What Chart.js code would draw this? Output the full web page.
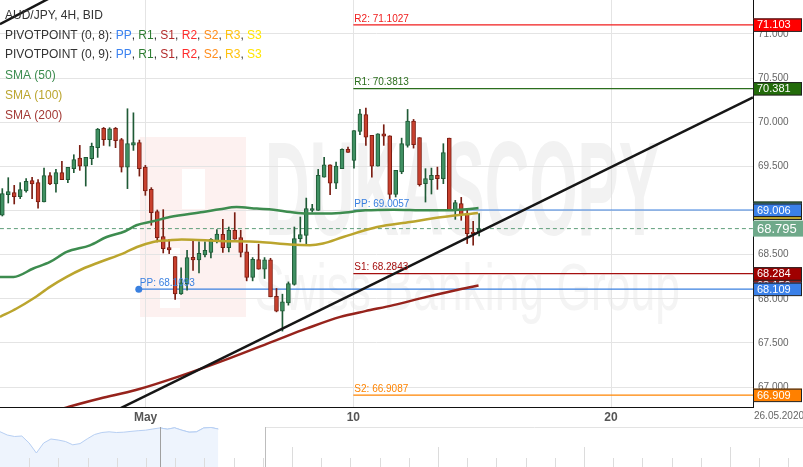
<!DOCTYPE html>
<html lang="en">
<head>
<meta charset="UTF-8">
<title>AUD/JPY, 4H</title>
<script src="https://cdn.jsdelivr.net/npm/chart.js"></script>
<style>
  body { margin: 0; background: #fff; }
  #wrap { position: relative; width: 803px; height: 467px; overflow: hidden; background: #fff; }
  #mainChart { position: absolute; left: 0; top: 0; }
  #navChart { position: absolute; left: 0; top: 427px; }
</style>
</head>
<body>
<div id="wrap">
  <canvas id="mainChart" width="803" height="427"></canvas>
  <canvas id="navChart" width="803" height="40"></canvas>
</div>

<script>
// 4H candles (index 0 = first visible candle)
const openP = [68.946, 69.180, 69.203, 69.157, 69.221, 69.338, 69.316, 69.096, 69.395, 69.300,
  69.429, 69.350, 69.474, 69.594, 69.503, 69.587, 69.712, 69.930, 69.802, 69.930,
  69.805, 69.492, 69.741, 69.771, 69.492, 69.240, 68.988, 68.705, 68.580, 68.479,
  68.055, 68.169, 68.471, 68.440, 68.497, 68.524, 68.652, 68.731, 68.580, 68.776,
  68.693, 68.531, 68.241, 68.445, 68.335, 68.440, 68.029, 67.860, 67.954, 68.162,
  68.682, 68.719, 69.002, 69.002, 69.379, 69.519, 69.311, 69.474, 69.692, 69.568,
  69.896, 70.088, 69.851, 69.503, 69.870, 69.847, 69.183, 69.436, 69.738, 70.012,
  69.825, 69.304, 69.350, 69.398, 69.361, 69.820, 69.010, 69.078, 68.965, 68.757,
  68.757];
const highP = [69.248, 69.372, 69.285, 69.316, 69.361, 69.376, 69.350, 69.481, 69.429, 69.466,
  69.557, 69.489, 69.632, 69.738, 69.602, 69.764, 69.930, 69.941, 69.938, 69.941,
  69.817, 70.153, 70.107, 69.798, 69.511, 69.259, 69.006, 69.010, 68.674, 68.479,
  68.350, 68.550, 68.652, 68.644, 68.644, 68.682, 68.784, 68.900, 68.813, 68.976,
  68.776, 68.618, 68.467, 68.618, 68.467, 68.459, 68.117, 68.052, 68.191, 68.813,
  68.926, 69.141, 69.070, 69.466, 69.602, 69.519, 69.549, 69.700, 69.718, 69.907,
  70.145, 70.160, 69.851, 69.870, 69.972, 69.847, 69.455, 69.820, 70.145, 70.032,
  69.825, 69.474, 69.481, 69.492, 69.757, 69.820, 69.115, 69.149, 69.022, 68.878,
  68.965];
const lowP = [68.938, 69.085, 69.074, 69.135, 69.209, 69.135, 69.028, 69.096, 69.293, 69.209,
  69.350, 69.316, 69.429, 69.455, 69.277, 69.519, 69.602, 69.738, 69.730, 69.712,
  69.436, 69.248, 69.681, 69.390, 69.172, 68.833, 68.644, 68.519, 68.512, 67.992,
  68.049, 68.097, 68.320, 68.293, 68.474, 68.463, 68.632, 68.524, 68.531, 68.674,
  68.474, 68.203, 68.203, 68.335, 68.230, 68.022, 67.852, 67.634, 67.928, 68.154,
  68.644, 68.618, 68.983, 69.002, 69.379, 69.180, 69.248, 69.474, 69.658, 69.481,
  69.859, 69.738, 69.379, 69.503, 69.738, 69.135, 69.153, 69.417, 69.718, 69.707,
  69.277, 69.096, 69.187, 69.240, 69.304, 69.010, 68.900, 68.889, 68.626, 68.606,
  68.712];
const closeP = [69.191, 69.214, 69.157, 69.236, 69.330, 69.300, 69.096, 69.395, 69.300, 69.429,
  69.350, 69.489, 69.576, 69.503, 69.602, 69.726, 69.922, 69.802, 69.926, 69.791,
  69.492, 69.757, 69.771, 69.474, 69.221, 68.976, 68.693, 68.569, 68.553, 68.055,
  68.180, 68.467, 68.440, 68.516, 68.550, 68.674, 68.734, 68.580, 68.776, 68.674,
  68.524, 68.241, 68.448, 68.335, 68.440, 68.022, 67.860, 67.965, 68.173, 68.682,
  68.727, 69.022, 69.022, 69.398, 69.519, 69.311, 69.503, 69.692, 69.658, 69.907,
  70.096, 69.831, 69.503, 69.870, 69.843, 69.183, 69.455, 69.757, 70.012, 69.745,
  69.293, 69.361, 69.398, 69.361, 69.655, 69.010, 69.089, 68.954, 68.739, 68.739,
  68.795];

// moving averages as [candle index, value]
const sma50 = [[-0.4, 68.248], [1.9, 68.248], [5.2, 68.343], [8, 68.417], [10.8, 68.531],
  [14.7, 68.606], [17.5, 68.700], [20.6, 68.765], [22.5, 68.833], [25.3, 68.878],
  [28.1, 68.926], [33.7, 68.983], [36.5, 69.014], [39.3, 69.040], [42.7, 69.022],
  [45.5, 69.010], [48.3, 68.983], [51.1, 68.965], [53.9, 68.965], [56.7, 68.972],
  [60.9, 69.002], [65.6, 69.010], [71.2, 69.002], [75.1, 69.002], [77.9, 69.014], [79.9, 69.028]];
const sma100 = [[-0.4, 67.795], [2.4, 67.890], [5.2, 68.003], [8, 68.135], [10.8, 68.248],
  [13.6, 68.343], [16.4, 68.417], [20.6, 68.524], [22.6, 68.587], [25.3, 68.644],
  [28.1, 68.663], [30.1, 68.671], [36.5, 68.655], [43.2, 68.644], [48.3, 68.614],
  [51.6, 68.606], [53.8, 68.626], [57.2, 68.700], [62.9, 68.813], [68.4, 68.870],
  [73.9, 68.926], [79.8, 68.972]];
const sma200 = [[8.5, 66.720], [11.2, 66.777], [16.4, 66.870], [22.4, 66.966], [29.8, 67.124],
  [38.2, 67.328], [46, 67.532], [51.1, 67.664], [56.7, 67.795], [60.9, 67.860],
  [65.6, 67.928], [71.2, 68.022], [76.8, 68.109], [79.9, 68.150]];

// trend lines
const trendMain = [[15, 66.600], [125.95, 70.281]];
const trendTop = [[-0.4, 71.112], [8, 71.408]];

// weekly pivot points
const pivotNames = ['R2', 'R1', 'PP', 'S1', 'S2'];
const pivotValues = [71.1027, 70.3813, 69.0057, 68.2843, 66.9087];
const pivotStart = 58.9;
const prevPP = 68.1093;
const prevPPStart = 22.9;
const lastPrice = 68.795;

const priceTicks = [67, 67.5, 68, 68.5, 69, 69.5, 70, 70.5, 71];
const dateTickPos = [24.04, 58.89, 102.13];
const dateTickLabels = ['May', '10', '20'];

// navigator history (relative height)
const navValues = [35.3, 32, 30.5, 31, 24, 14, 24, 28, 27, 25.5, 22.2, 23.4, 28.2, 32.5, 34.5,
  35.2, 34.5, 34.8, 35.6, 36.3, 36.8, 38, 39.1, 37.8, 39.2, 36.8, 34.8, 35.1, 39, 39.5, 38];
const navSelStart = 22;

// colours
const upFill = '#3f9062', upEdge = '#1f5a36';
const downFill = '#c8402e', downEdge = '#7a1d12';
const pivotColors = ['#f01c1c', '#2b6e1c', '#3a80e0', '#a50f0f', '#ff8400'];
const sma50Color = '#3d8c4f', sma100Color = '#bba52e', sma200Color = '#96231c';

const up = closeP.map((c, i) => c >= openP[i]);

const datasets = [
  {
    type: 'bar', label: 'wick',
    data: highP.map((h, i) => ({ x: i, y: [lowP[i], h] })),
    backgroundColor: up.map(u => u ? upEdge : downEdge),
    barThickness: 1, grouped: false, order: 3
  },
  {
    type: 'bar', label: 'body',
    data: openP.map((o, i) => ({ x: i, y: [o, closeP[i]] })),
    backgroundColor: up.map(u => u ? upFill : downFill),
    borderColor: up.map(u => u ? upEdge : downEdge),
    borderWidth: 1, borderSkipped: false,
    barThickness: 4, grouped: false, order: 2
  },
  {
    type: 'line', label: 'SMA (50)', data: sma50.map(p => ({ x: p[0], y: p[1] })),
    borderColor: sma50Color, borderWidth: 2.5, pointRadius: 0, cubicInterpolationMode: 'monotone', order: 1
  },
  {
    type: 'line', label: 'SMA (100)', data: sma100.map(p => ({ x: p[0], y: p[1] })),
    borderColor: sma100Color, borderWidth: 2.5, pointRadius: 0, cubicInterpolationMode: 'monotone', order: 1
  },
  {
    type: 'line', label: 'SMA (200)', data: sma200.map(p => ({ x: p[0], y: p[1] })),
    borderColor: sma200Color, borderWidth: 2.5, pointRadius: 0, cubicInterpolationMode: 'monotone', order: 1
  },
  {
    type: 'line', label: 'trend', data: trendMain.map(p => ({ x: p[0], y: p[1] })),
    borderColor: '#161616', borderWidth: 2.5, pointRadius: 0, order: 0
  },
  {
    type: 'line', label: 'trend2', data: trendTop.map(p => ({ x: p[0], y: p[1] })),
    borderColor: '#161616', borderWidth: 2.5, pointRadius: 0, order: 0
  },
  {
    type: 'line', label: 'last', data: [{ x: -0.4, y: lastPrice }, { x: 126, y: lastPrice }],
    borderColor: '#5f9e7a', borderWidth: 1, borderDash: [4, 3], pointRadius: 0, order: 4
  },
  {
    type: 'line', label: 'PP prev', data: [{ x: prevPPStart, y: prevPP }, { x: 126, y: prevPP }],
    borderColor: '#3a80e0', borderWidth: 1.2, pointRadius: [3.5, 0], pointBackgroundColor: '#3a80e0',
    pointBorderWidth: 0, order: 4
  }
];
pivotNames.forEach((n, k) => {
  datasets.push({
    type: 'line', label: n, data: [{ x: pivotStart, y: pivotValues[k] }, { x: 126, y: pivotValues[k] }],
    borderColor: pivotColors[k], borderWidth: 1.2, pointRadius: 0, order: 4
  });
});

function drawWatermark(ctx) {
  ctx.save();
  ctx.fillStyle = '#fdf1f0';
  ctx.fillRect(140, 137, 106, 180);
  ctx.fillStyle = '#ffffff';
  ctx.fillRect(182, 169, 23, 40);
  ctx.fillRect(160, 248, 20, 60);

  ctx.fillStyle = '#f2f2f2';
  ctx.font = 'bold 134px "Liberation Sans", Arial, sans-serif';
  ctx.textBaseline = 'alphabetic';
  let w = ctx.measureText('DUKASCOPY').width;
  ctx.save();
  ctx.translate(265, 235);
  ctx.scale(395 / w, 1);
  ctx.fillText('DUKASCOPY', 0, 0);
  ctx.restore();

  ctx.fillStyle = '#f4f4f4';
  ctx.font = '66px "Liberation Sans", Arial, sans-serif';
  w = ctx.measureText('Swiss Banking Group').width;
  ctx.translate(255, 310);
  ctx.scale(425 / w, 1);
  ctx.fillText('Swiss Banking Group', 0, 0);
  ctx.restore();
}

function drawLegend(ctx) {
  const sep = '#333';
  const pivotRow = label => {
    const names = ['PP', 'R1', 'S1', 'R2', 'S2', 'R3', 'S3'];
    const cols = ['#3b82f0', '#2e7d32', '#b22a2a', '#ff2b2b', '#ff8c1a', '#ffc20e', '#ffe600'];
    const row = [[label, sep]];
    names.forEach((n, i) => {
      row.push([n, cols[i]]);
      if (i < names.length - 1) row.push([', ', sep]);
    });
    return row;
  };
  const rows = [
    { y: 16, parts: [['AUD/JPY, 4H, BID', '#333']] },
    { y: 35.5, parts: pivotRow('PIVOTPOINT (0, 8): ') },
    { y: 55, parts: pivotRow('PIVOTPOINT (0, 9): ') },
    { y: 76, parts: [['SMA (50)', sma50Color]] },
    { y: 96, parts: [['SMA (100)', sma100Color]] },
    { y: 116, parts: [['SMA (200)', '#a33a35']] }
  ];
  ctx.save();
  ctx.font = '12px Arial, "Liberation Sans", sans-serif';
  ctx.textBaseline = 'middle';
  rows.forEach(r => {
    let x = 5;
    r.parts.forEach(([t, c]) => {
      ctx.fillStyle = c;
      ctx.fillText(t, x, r.y);
      x += ctx.measureText(t).width;
    });
  });
  ctx.restore();
}

function priceBox(ctx, yScale, value, fill, textColor) {
  const y = yScale.getPixelForValue(value);
  ctx.fillStyle = fill;
  ctx.fillRect(753, y - 6.5, 49, 13);
  ctx.strokeStyle = '#222';
  ctx.lineWidth = 1;
  ctx.strokeRect(753.5, y - 6, 48, 12.5);
  ctx.fillStyle = textColor;
  ctx.font = '11px Arial, "Liberation Sans", sans-serif';
  ctx.textBaseline = 'middle';
  ctx.textAlign = 'left';
  ctx.fillText(value.toFixed(3), 757, y + 0.5);
}

const decor = {
  id: 'decor',
  beforeDraw(chart) {
    const ctx = chart.ctx;
    ctx.save();
    ctx.fillStyle = '#fff';
    ctx.fillRect(0, 0, chart.width, chart.height);
    ctx.restore();
    drawWatermark(ctx);
  },
  afterDatasetsDraw(chart) {
    const ctx = chart.ctx, xs = chart.scales.x, ys = chart.scales.y;
    ctx.save();
    ctx.font = '10px Arial, "Liberation Sans", sans-serif';
    ctx.textBaseline = 'bottom';
    pivotNames.forEach((n, k) => {
      ctx.fillStyle = pivotColors[k];
      ctx.fillText(n + ': ' + pivotValues[k].toFixed(4), xs.getPixelForValue(pivotStart) + 1, ys.getPixelForValue(pivotValues[k]) - 1);
    });
    ctx.fillStyle = '#3a80e0';
    ctx.fillText('PP: ' + prevPP.toFixed(4), xs.getPixelForValue(prevPPStart) + 1, ys.getPixelForValue(prevPP) - 1);
    ctx.restore();
  },
  afterDraw(chart) {
    const ctx = chart.ctx, ys = chart.scales.y;
    drawLegend(ctx);
    ctx.save();
    const last = a => a[a.length - 1][1];
    priceBox(ctx, ys, last(sma50), sma50Color, '#fff');
    priceBox(ctx, ys, last(sma100), sma100Color, '#fff');
    priceBox(ctx, ys, last(sma200), sma200Color, '#fff');
    priceBox(ctx, ys, pivotValues[0], '#ff0000', '#fff');
    priceBox(ctx, ys, pivotValues[1], '#226b0a', '#fff');
    priceBox(ctx, ys, pivotValues[2], '#3a80e8', '#fff');
    priceBox(ctx, ys, pivotValues[3], '#a00000', '#fff');
    priceBox(ctx, ys, prevPP, '#3a80e8', '#fff');
    priceBox(ctx, ys, pivotValues[4], '#ff8000', '#fff');
    // current price
    const y = ys.getPixelForValue(lastPrice);
    ctx.fillStyle = '#6fa98a';
    ctx.fillRect(753, y - 8, 50, 16);
    ctx.fillStyle = '#fff';
    ctx.font = '13px Arial, "Liberation Sans", sans-serif';
    ctx.textBaseline = 'middle';
    ctx.fillText(lastPrice.toFixed(3), 757, y + 0.5);
    // date stamp
    ctx.fillStyle = '#666';
    ctx.font = '10px Arial, "Liberation Sans", sans-serif';
    ctx.textAlign = 'center';
    ctx.fillText('26.05.2020', 779, 416);
    ctx.restore();
  }
};

new Chart(document.getElementById('mainChart'), {
  type: 'bar',
  data: { datasets },
  options: {
    responsive: false,
    animation: false,
    devicePixelRatio: 1,
    layout: { padding: 0, autoPadding: false },
    plugins: { legend: { display: false }, title: { display: false }, tooltip: { enabled: false } },
    scales: {
      x: {
        type: 'linear', min: -0.386, max: 125.95, offset: false,
        grid: { color: '#e4e4e4', drawTicks: false, offset: false },
        border: { display: true, color: '#111' },
        ticks: {
          autoSkip: false, maxRotation: 0, padding: 3, color: '#555',
          font: { size: 12, weight: 'bold', family: 'Arial, "Liberation Sans", sans-serif' },
          callback: (v, i) => dateTickLabels[i]
        },
        afterBuildTicks: s => { s.ticks = dateTickPos.map(v => ({ value: v })); },
        afterFit: s => { s.height = 20; s.paddingLeft = 0; s.paddingRight = 0; }
      },
      y: {
        type: 'linear', position: 'right', min: 66.774, max: 71.385,
        grid: { color: '#e4e4e4', drawTicks: false },
        border: { display: true, color: '#111' },
        ticks: {
          padding: 5, color: '#666',
          font: { size: 10, family: 'Arial, "Liberation Sans", sans-serif' },
          callback: v => Number(v).toFixed(3)
        },
        afterBuildTicks: s => { s.ticks = priceTicks.map(v => ({ value: v })); },
        afterFit: s => { s.width = 50; s.paddingTop = 0; s.paddingBottom = 0; }
      }
    }
  },
  plugins: [decor]
});

// navigator strip
const navDecor = {
  id: 'navDecor',
  beforeDraw(chart) {
    const ctx = chart.ctx;
    ctx.save();
    ctx.fillStyle = '#fff';
    ctx.fillRect(0, 0, chart.width, chart.height);
    ctx.restore();
  },
  afterDraw(chart) {
    const ctx = chart.ctx, xs = chart.scales.x;
    ctx.save();
    ctx.strokeStyle = '#e3e3e3';
    ctx.lineWidth = 1;
    ctx.beginPath();
    ctx.moveTo(266, 0.5); ctx.lineTo(803, 0.5);
    ctx.stroke();
    ctx.strokeStyle = '#dcdcdc';
    for (let k = 1; k < 28; k++) {
      const x = Math.round(29.2 * k) + 0.5;
      const tall = (k - 10) % 5 === 0 && k >= 10;
      ctx.beginPath();
      ctx.moveTo(x, tall ? 20 : 31); ctx.lineTo(x, 40);
      ctx.stroke();
    }
    ctx.strokeStyle = '#a0a0a0';
    const sx = Math.round(xs.getPixelForValue(navSelStart)) + 0.5;
    ctx.beginPath(); ctx.moveTo(sx, 0); ctx.lineTo(sx, 40); ctx.stroke();
    ctx.strokeStyle = '#bdbdbd';
    ctx.beginPath(); ctx.moveTo(265.5, 0); ctx.lineTo(265.5, 40); ctx.stroke();
    ctx.restore();
  }
};

new Chart(document.getElementById('navChart'), {
  type: 'line',
  data: {
    datasets: [
      {
        data: navValues.map((v, i) => ({ x: i, y: v })),
        borderColor: '#b7cff3', borderWidth: 1, backgroundColor: '#eef4fd',
        fill: 'origin', pointRadius: 0
      },
      {
        data: navValues.map((v, i) => ({ x: i, y: v })).filter(p => p.x >= navSelStart),
        borderColor: '#a9c6f0', borderWidth: 1, backgroundColor: '#dbe7fa',
        fill: 'origin', pointRadius: 0
      }
    ]
  },
  options: {
    responsive: false,
    animation: false,
    devicePixelRatio: 1,
    layout: { padding: 0, autoPadding: false },
    plugins: { legend: { display: false }, tooltip: { enabled: false } },
    scales: {
      x: { type: 'linear', display: false, min: 0, max: 110.4 },
      y: { display: false, min: 0, max: 40 }
    }
  },
  plugins: [navDecor]
});
</script>
</body>
</html>
